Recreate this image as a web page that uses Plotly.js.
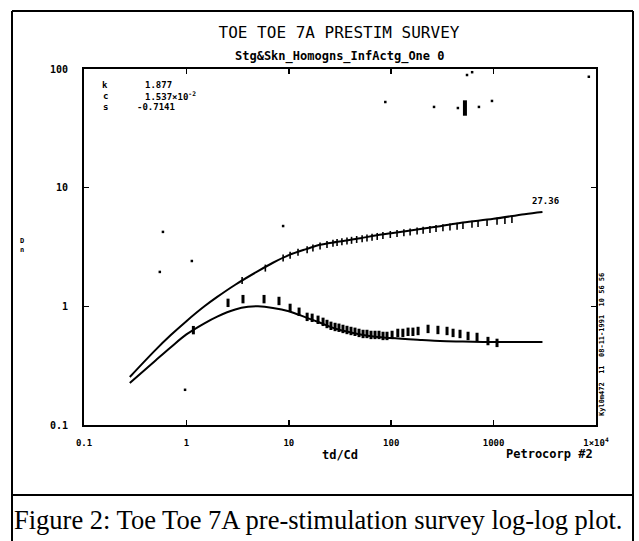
<!DOCTYPE html>
<html><head><meta charset="utf-8">
<script src="https://cdn.plot.ly/plotly-3.0.1.min.js"></script>
<style>html,body{margin:0;padding:0;background:#fff}#chart{width:639px;height:541px}</style>
</head><body><div id="chart"></div>
<script>
// Type-curve model: dimensionless pressure (upper) and derivative (lower)
const modelPressureX = [0.28,0.5,0.7,1,1.5,2,3,5,7,10,15,20,30,50,70,100,200,300,500,1000,2000,3000];
const modelPressureY = [0.254,0.43,0.57,0.75,1.0,1.2,1.52,1.98,2.33,2.7,3.05,3.3,3.5,3.75,3.95,4.13,4.5,4.74,5.08,5.46,5.98,6.24];
const modelDerivX = [0.28,0.5,0.7,1,1.5,2,3,4,5,7,10,15,20,30,50,70,100,200,300,500,1000,2000,3000];
const modelDerivY = [0.226,0.35,0.45,0.58,0.72,0.82,0.94,0.99,1.0,0.97,0.91,0.8,0.73,0.64,0.58,0.555,0.54,0.52,0.51,0.505,0.5,0.5,0.5];

// Measured pressure data
const pressX = [3.5,5.9,8.8,10.3,12.3,15.1,17.2,20.2,23.6,27,29.6,33,37,41,46,52,58,65,73,83,98,114,133,153,179,205,239,274,320,375,440,502,615,705,863,1080,1290,1510];
const pressY = [1.65,2.1,2.55,2.7,2.85,3.0,3.1,3.22,3.32,3.4,3.45,3.5,3.56,3.6,3.66,3.72,3.77,3.82,3.88,3.95,4.03,4.1,4.17,4.24,4.31,4.38,4.45,4.52,4.59,4.66,4.74,4.81,4.92,4.99,5.09,5.2,5.3,5.38];

// Measured derivative data
const derivX = [1.17,2.55,3.57,5.73,8.02,10.3,12.6,15.1,16.9,19.3,21.6,23.6,25.8,28.3,30.9,33.8,37.0,40.5,44.3,48.5,53.1,58.0,63.5,69.5,76.0,83.2,91.0,102,116,130,146,163,183,229,286,351,402,470,563,689,881,1080];
const derivY = [0.63,1.07,1.15,1.15,1.11,0.97,0.90,0.815,0.80,0.77,0.74,0.71,0.685,0.67,0.66,0.645,0.632,0.62,0.61,0.597,0.585,0.585,0.574,0.574,0.574,0.563,0.563,0.574,0.597,0.597,0.61,0.61,0.62,0.645,0.632,0.62,0.597,0.585,0.563,0.552,0.51,0.492];

// Stray early/noisy points
const strayX = [0.59,1.13,0.55,0.97,8.8,448,719,964,550,617,8510,87.6,262];
const strayY = [4.24,2.41,1.95,0.198,4.75,46.9,47.9,53.8,89,94,86,52.7,47.9];
const blobX = [525];
const blobY = [46.9];

const xTickVals = [0.1,1,10,100,1000,10000];
const xTickText = ['0.1','1','10','100','1000','1\u00d710<sup>4</sup>'];
const yTickVals = [0.1,1,10,100];
const yTickText = ['0.1','1','10','100'];

const mono = 'DejaVu Sans Mono, monospace';
const ink = '#000';

const traces = [
  {x: modelPressureX, y: modelPressureY, mode:'lines', line:{color:ink, width:2, shape:'spline'}, hoverinfo:'skip'},
  {x: modelDerivX, y: modelDerivY, mode:'lines', line:{color:ink, width:2, shape:'spline'}, hoverinfo:'skip'},
  {x: pressX, y: pressY, mode:'markers', marker:{symbol:'line-ns', size:5, line:{width:1.6, color:ink}}},
  {x: derivX, y: derivY, mode:'markers', marker:{symbol:'line-ns', size:6, line:{width:3, color:ink}}},
  {x: strayX, y: strayY, mode:'markers', marker:{symbol:'square', size:2.5, color:ink, line:{width:0}}},
  {x: blobX, y: blobY, mode:'markers', marker:{symbol:'line-ns', size:11, line:{width:4, color:ink}}}
];

const px = v => (v-84)/512;
const py = v => (425-v)/356;

const ann = (text, x, y, opts) => Object.assign({text, x:px(x), y:py(y), xref:'paper', yref:'paper', showarrow:false,
  xanchor:'center', yanchor:'middle',
  font:{family:mono, size:9, color:ink, weight:'bold'}}, opts||{});

const layout = {
  width:639, height:541,
  paper_bgcolor:'#fff', plot_bgcolor:'#fff',
  margin:{l:84, r:43, t:69, b:116, pad:0},
  showlegend:false,
  title:{text:'TOE TOE 7A PRESTIM SURVEY', x:339/639, xanchor:'center', y:1-32/541, yanchor:'middle',
    font:{family:mono, size:16, color:ink}},
  xaxis:{type:'log', range:[-1,4], tickvals:xTickVals, ticktext:xTickText, ticks:'inside', ticklen:5, tickwidth:1.5, tickcolor:ink,
    showline:true, linewidth:2, linecolor:ink, mirror:'ticks', showgrid:false, zeroline:false,
    tickfont:{family:mono, size:9, color:ink, weight:'bold'}, ticklabelstandoff:8,
    title:{text:'td/Cd', font:{family:mono, size:12, color:ink, weight:'bold'}, standoff:4}},
  yaxis:{type:'log', range:[-1,2], tickvals:yTickVals, ticktext:yTickText, ticks:'inside', ticklen:5, tickwidth:1.5, tickcolor:ink,
    showline:true, linewidth:2, linecolor:ink, mirror:'ticks', showgrid:false, zeroline:false,
    tickfont:{family:mono, size:10, color:ink, weight:'bold'}, ticklabelstandoff:12},
  annotations:[
    ann('Stg&Skn_Homogns_InfActg_One 0', 340, 57, {font:{family:mono, size:12, color:ink, weight:'bold'}}),
    ann('k', 105, 85), ann('c', 105, 96), ann('s', 105, 107),
    ann('1.877', 143, 85, {xanchor:'left'}),
    ann('1.537\u00d710<sup>-2</sup>', 143, 96, {xanchor:'left'}),
    ann('-0.7141', 135, 107, {xanchor:'left'}),
    ann('27.36', 545, 201, {font:{family:mono, size:9, color:ink, weight:'bold'}}),
    ann('Petrocorp #2', 549, 454, {font:{family:mono, size:12, color:ink, weight:'bold'}}),
    ann('D<br>n', 22, 245, {font:{family:mono, size:7, color:ink, weight:'bold'}}),
    ann('Kyl0m472  11  08-11-1991  10 56 56', 602, 345, {textangle:-90, font:{family:mono, size:7, color:ink, weight:'bold'}}),
    ann('Figure 2: Toe Toe 7A pre-stimulation survey log-log plot.', 318, 520,
      {font:{family:'Liberation Serif, Times New Roman, serif', size:26.5, color:ink}})
  ],
  shapes:[
    {type:'line', xref:'paper', yref:'paper', x0:px(12), x1:px(633), y0:py(11), y1:py(11), line:{color:ink, width:2}},
    {type:'line', xref:'paper', yref:'paper', x0:px(12), x1:px(633), y0:py(495), y1:py(495), line:{color:ink, width:2}},
    {type:'line', xref:'paper', yref:'paper', x0:px(12), x1:px(12), y0:py(11), y1:py(541), line:{color:ink, width:2}},
    {type:'line', xref:'paper', yref:'paper', x0:px(633), x1:px(633), y0:py(11), y1:py(541), line:{color:ink, width:2}}
  ]
};

Plotly.newPlot('chart', traces, layout, {displayModeBar:false, staticPlot:true});
</script>
</body></html>
